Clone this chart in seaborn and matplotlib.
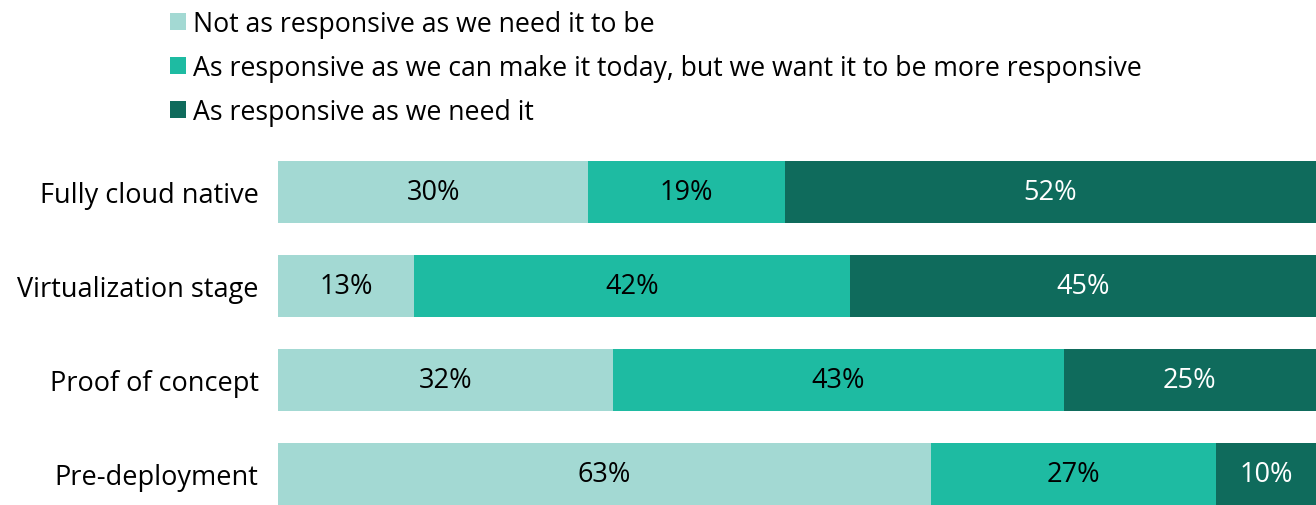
"""Stacked horizontal bar chart: network responsiveness by deployment stage"""

import matplotlib

matplotlib.use("Agg")
import matplotlib.pyplot as plt
from matplotlib.patches import Patch
import numpy as np
import pandas as pd
import seaborn as sns

# data
stages = ["Fully cloud native", "Virtualization stage", "Proof of concept", "Pre-deployment"]
series_names = [
    "Not as responsive as we need it to be",
    "As responsive as we can make it today, but we want it to be more responsive",
    "As responsive as we need it",
]
not_responsive = [29.9, 13.1, 32.3, 62.9]
want_more = [18.9, 42.0, 43.4, 27.5]
responsive = [51.2, 44.9, 24.3, 9.6]
# printed labels (rounded as in the source)
label_not = [30, 13, 32, 63]
label_want = [19, 42, 43, 27]
label_resp = [52, 45, 25, 10]

colors = ["#A3D9D3", "#1EBBA2", "#0F6B5C"]
text_colors = ["black", "black", "white"]

sns.set_theme(style="white")
plt.rcParams["font.family"] = ["Open Sans", "DejaVu Sans"]
plt.rcParams["text.color"] = "black"

FS = 19.5

df = pd.DataFrame(
    {"stage": stages, "s1": not_responsive, "s2": want_more, "s3": responsive}
)
df["c1"] = df["s1"]
df["c2"] = df["s1"] + df["s2"]
df["c3"] = df["c2"] + df["s3"]

fig = plt.figure(figsize=(13.16, 5.06), dpi=100)
ax = fig.add_axes([278 / 1316, 0, 1 - 278 / 1316, 376 / 506])

# draw cumulative totals from the back to the front
for col, color in zip(["c3", "c2", "c1"], colors[::-1]):
    sns.barplot(
        data=df, x=col, y="stage", orient="h", color=color,
        width=0.66, saturation=1, linewidth=0, ax=ax,
    )

ax.set_xlim(0, df["c3"].max())
ax.set_ylim(3.33, -0.67)

lefts = [np.zeros(len(stages)), df["c1"].values, df["c2"].values]
widths = [df["s1"].values, df["s2"].values, df["s3"].values]
labels = [label_not, label_want, label_resp]
for left, width, lab, tc in zip(lefts, widths, labels, text_colors):
    for i in range(len(stages)):
        ax.text(left[i] + width[i] / 2, i, f"{lab[i]}%", ha="center", va="center",
                fontsize=FS, color=tc)

ax.set_xlabel("")
ax.set_ylabel("")
ax.set_xticks([])
ax.tick_params(axis="y", length=0, pad=14, labelsize=FS, labelcolor="black")
for s in ax.spines.values():
    s.set_visible(False)

handles = [Patch(facecolor=c, edgecolor="none") for c in colors]
fig.legend(
    handles, series_names, loc="upper left", bbox_to_anchor=(159 / 1316, 1.0),
    frameon=False, fontsize=19.2, handlelength=0.63, handleheight=0.63,
    handletextpad=0.25, labelspacing=0.6, borderaxespad=0, labelcolor="black",
)

fig.savefig("out.png", dpi=100, facecolor="white")
